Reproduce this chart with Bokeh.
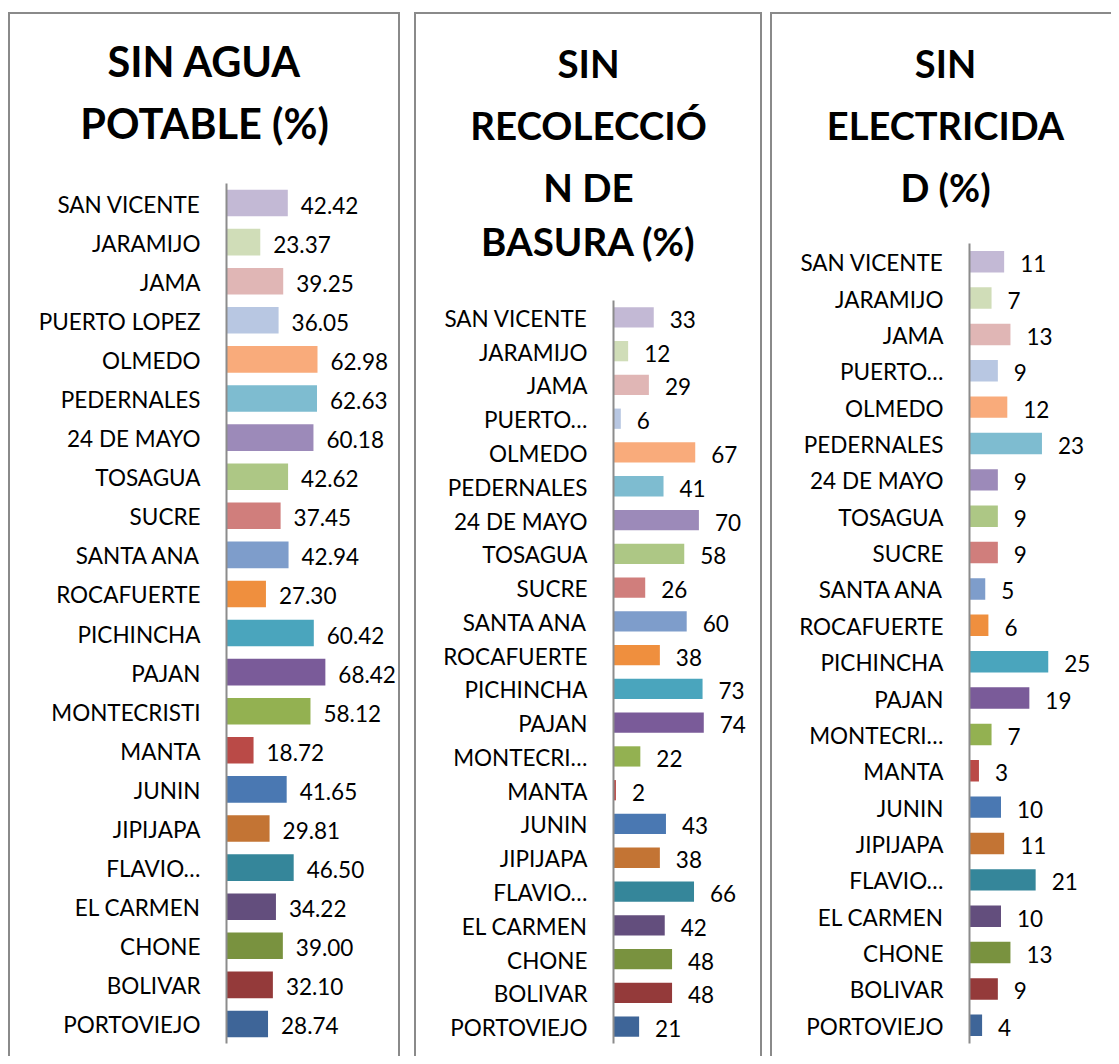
from bokeh.plotting import figure
from bokeh.models import Range1d, Label, ColumnDataSource, Spacer
from bokeh.layouts import row, column
from bokeh.embed import file_html
from bokeh.resources import INLINE
from bokeh.core.properties import value

FONT = "Lato"

# ---------------- data (bottom to top) ----------------
labels_agua = ["PORTOVIEJO", "BOLIVAR", "CHONE", "EL CARMEN", "FLAVIO…", "JIPIJAPA",
               "JUNIN", "MANTA", "MONTECRISTI", "PAJAN", "PICHINCHA", "ROCAFUERTE",
               "SANTA ANA", "SUCRE", "TOSAGUA", "24 DE MAYO", "PEDERNALES", "OLMEDO",
               "PUERTO LOPEZ", "JAMA", "JARAMIJO", "SAN VICENTE"]
labels_short = ["PORTOVIEJO", "BOLIVAR", "CHONE", "EL CARMEN", "FLAVIO…", "JIPIJAPA",
                "JUNIN", "MANTA", "MONTECRI…", "PAJAN", "PICHINCHA", "ROCAFUERTE",
                "SANTA ANA", "SUCRE", "TOSAGUA", "24 DE MAYO", "PEDERNALES", "OLMEDO",
                "PUERTO…", "JAMA", "JARAMIJO", "SAN VICENTE"]

sin_agua = [28.74, 32.10, 39.00, 34.22, 46.50, 29.81, 41.65, 18.72, 58.12, 68.42, 60.42,
            27.30, 42.94, 37.45, 42.62, 60.18, 62.63, 62.98, 36.05, 39.25, 23.37, 42.42]
sin_basura = [21, 48, 48, 42, 66, 38, 43, 2, 22, 74, 73, 38, 60, 26, 58, 70, 41, 67, 6, 29, 12, 33]
sin_elec = [4, 9, 13, 10, 21, 11, 10, 3, 7, 19, 25, 6, 5, 9, 9, 9, 23, 12, 9, 13, 7, 11]

colors = ["#3E6598", "#943A3A", "#79923F", "#634E7D", "#35869A", "#C37434",
          "#4A78B2", "#BA4A47", "#93B151", "#7A5B99", "#4AA5BD", "#EF8F3E",
          "#7E9DCB", "#D07E7C", "#ADC785", "#9C8AB9", "#7EBCD0", "#F9AB7B",
          "#B8C7E2", "#E0B6B5", "#D0DDB8", "#C3B9D5"]

titles = [["SIN AGUA", "POTABLE (%)"],
          ["SIN", "RECOLECCIÓ", "N DE", "BASURA (%)"],
          ["SIN", "ELECTRICIDA", "D (%)"]]

# ---------------- layout constants (page pixels) ----------------
FIG_TOP = 12
FIG_H = 1044
BORDER = 2
AXIS_BOTTOM = 1043
CANVAS_TOP = FIG_TOP + BORDER
CANVAS_BOTTOM = CANVAS_TOP + FIG_H


def panel(fig_left, width, labels, vals, texts, px_per_unit, axis_x, axis_top,
          bar_h, tlines, tsize, tys, border, center_x, val_offset):
    n = len(labels)
    canvas_left = fig_left + BORDER
    canvas_right = canvas_left + width
    pitch = (AXIS_BOTTOM - axis_top) / n
    x0 = -(axis_x - canvas_left) / px_per_unit
    x1 = (canvas_right - axis_x) / px_per_unit
    y0 = -0.5 - (CANVAS_BOTTOM - AXIS_BOTTOM) / pitch
    y1 = -0.5 + (AXIS_BOTTOM - CANVAS_TOP) / pitch

    p = figure(width=width, height=FIG_H,
               x_range=Range1d(x0, x1), y_range=Range1d(y0, y1),
               output_backend="svg", toolbar_location=None,
               x_axis_location=None, y_axis_location=None,
               min_border=0)
    p.xgrid.grid_line_color = None
    p.ygrid.grid_line_color = None
    p.outline_line_color = None

    idx = list(range(n))
    src = ColumnDataSource(dict(i=idx, cat=labels, v=vals, t=texts, c=colors,
                                zero=[0] * n))
    p.hbar(y="i", right="v", left=0, height=bar_h, fill_color="c", line_color=None,
           source=src)
    # value labels
    p.text(x="v", y="i", text="t", source=src, x_offset=val_offset, y_offset=2,
           text_align="left", text_baseline="middle",
           text_font=value(FONT), text_font_size="22.5px", text_color="#000000")
    # category labels (axis labels)
    p.text(x="zero", y="i", text="cat", source=src, x_offset=-26, y_offset=1,
           text_align="right", text_baseline="middle",
           text_font=value(FONT), text_font_size="22.5px", text_color="#000000")
    # category axis line
    p.segment(x0=[0], y0=[-0.5], x1=[0], y1=[n - 0.5], line_color="#8c8c8c",
              line_width=2)
    # titles
    for line, ty in zip(tlines, tys):
        p.add_layout(Label(x=center_x - canvas_left, y=CANVAS_BOTTOM - ty,
                           x_units="screen", y_units="screen", text=line,
                           text_align="center", text_baseline="middle",
                           text_font=FONT, text_font_style="bold",
                           text_font_size=tsize, text_color="#000000"))
    p.styles = border
    return p


b_full = {"border": "2px solid #8a8a8a", "border-bottom": "none", "box-sizing": "border-box"}
b_open = {"border": "2px solid #8a8a8a", "border-bottom": "none", "border-right": "none",
          "box-sizing": "border-box"}

p1 = panel(8, 392, labels_agua, sin_agua, ["%.2f" % v for v in sin_agua], 1.445, 226, 183,
           0.68, titles[0], "41.5px", [60, 122], b_full, 204, 13)
p2 = panel(414, 348, labels_short, sin_basura, [str(v) for v in sin_basura], 1.22, 613, 300,
           0.6, titles[1], "38.5px", [62, 124, 186, 240], b_full, 588, 16)
p3 = panel(770, 341, labels_short, sin_elec, [str(v) for v in sin_elec], 3.15, 969, 243,
           0.59, titles[2], "38px", [62, 124, 186], b_open, 945, 16)

layout = column(Spacer(height=FIG_TOP),
                row(Spacer(width=8), p1, Spacer(width=14), p2, Spacer(width=8), p3))
open("out.html", "w").write(file_html(layout, INLINE))
